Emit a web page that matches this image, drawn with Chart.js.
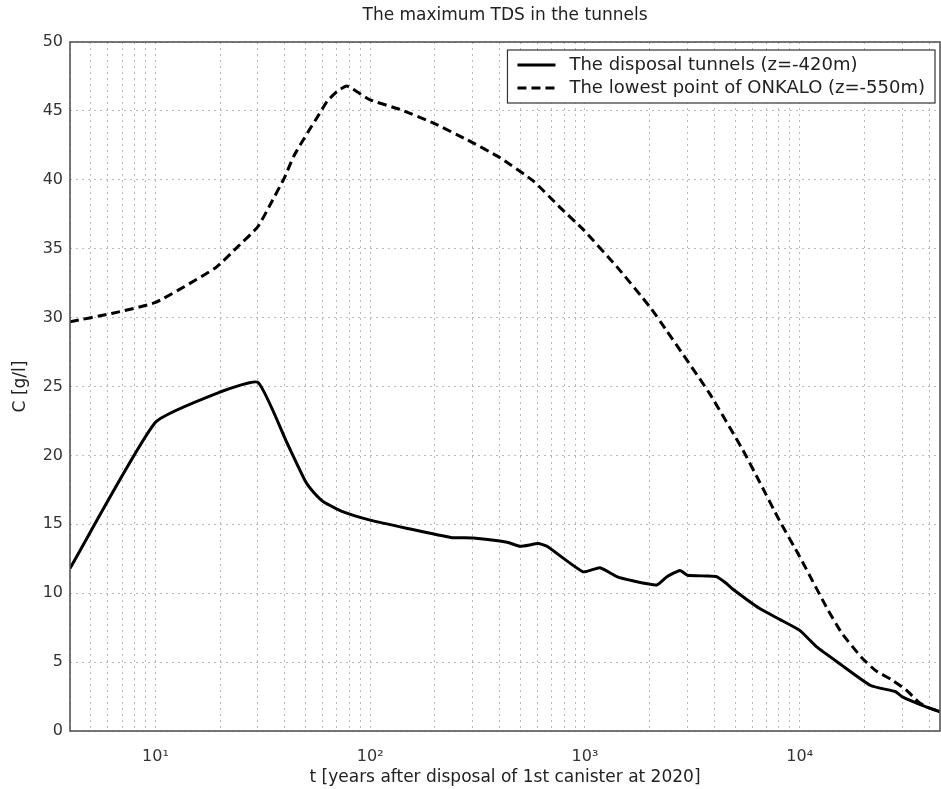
<!DOCTYPE html>
<html>
<head>
<meta charset="utf-8">
<script src="https://cdn.jsdelivr.net/npm/chart.js@4.4.1/dist/chart.umd.min.js"></script>
<style>
  html, body { margin: 0; padding: 0; background: #fff; }
  #wrap { width: 941px; height: 789px; }
</style>
</head>
<body>
<div id="wrap"><canvas id="tdsChart" width="941" height="789"></canvas></div>
<script>
// values (t in years, C in g/l)
const tunnelT = [4, 10, 20, 30, 41, 50, 55, 61, 75, 100, 149, 237, 302, 434, 499, 605, 666, 980, 1175, 1408, 1670, 2160, 2410, 2770, 3000, 3680, 4100, 4560, 4870, 6480, 8070, 10000, 12000, 15300, 21400, 28000, 29900, 38800, 45000];
const tunnelC = [11.8, 22.4, 24.6, 25.3, 20.9, 18.1, 17.25, 16.6, 15.9, 15.3, 14.7, 14.05, 14.0, 13.7, 13.4, 13.6, 13.4, 11.55, 11.85, 11.2, 10.9, 10.6, 11.2, 11.65, 11.3, 11.25, 11.2, 10.7, 10.3, 8.9, 8.1, 7.3, 6.1, 4.9, 3.3, 2.85, 2.5, 1.75, 1.4];

const onkaloT = [4, 6.25, 10, 19, 24, 30, 34.5, 40, 44, 51, 57, 63, 70, 78, 100, 138, 198, 283, 403, 576, 765, 980, 1406, 2000, 2390, 3800, 5430, 6490, 8030, 10000, 13300, 15700, 19500, 22500, 26900, 31200, 35800, 39000, 45000];
const onkaloC = [29.7, 30.3, 31.1, 33.6, 35.1, 36.6, 38.3, 40.2, 41.7, 43.4, 44.6, 45.7, 46.4, 46.8, 45.8, 45.1, 44.1, 42.9, 41.6, 39.9, 38.0, 36.4, 33.7, 30.8, 29.1, 24.5, 20.4, 18.1, 15.3, 12.65, 9.0, 7.1, 5.3, 4.4, 3.7, 3.0, 2.1, 1.75, 1.4];

const seriesNames = ['The disposal tunnels (z=-420m)', 'The lowest point of ONKALO (z=-550m)'];
const decadeLabels = { 10: '10\u00B9', 100: '10\u00B2', 1000: '10\u00B3', 10000: '10\u2074' };
const yTicksStep = 5;
const xMin = 4, xMax = 45000;

// minor + major log grid positions
const xTicks = [];
for (let e = 0; e <= 4; e++) {
    for (let s = 1; s <= 9; s++) {
        const v = s * Math.pow(10, e);
        if (v >= xMin && v <= xMax) xTicks.push(v);
    }
}

const FONT = '"DejaVu Sans", "Liberation Sans", Arial, sans-serif';

const framePlugin = {
    id: 'frame',
    afterDraw(chart) {
        const { ctx, chartArea: a } = chart;
        ctx.save();
        // box round the plot
        ctx.strokeStyle = '#555';
        ctx.lineWidth = 1.6;
        ctx.strokeRect(a.left, a.top, a.right - a.left, a.bottom - a.top);

        // title, centred over the plot
        ctx.fillStyle = '#222';
        ctx.font = '17px ' + FONT;
        ctx.textAlign = 'center';
        ctx.textBaseline = 'middle';
        ctx.fillText('The maximum TDS in the tunnels', (a.left + a.right) / 2, 16);

        // legend box top right
        ctx.font = '18px ' + FONT;
        const textW = Math.max(...seriesNames.map(n => ctx.measureText(n).width));
        const boxW = textW + 72, boxH = 53;
        const bx = a.right - 5 - boxW, by = a.top + 8;
        ctx.fillStyle = '#fff';
        ctx.fillRect(bx, by, boxW, boxH);
        ctx.strokeStyle = '#333';
        ctx.lineWidth = 1.2;
        ctx.strokeRect(bx, by, boxW, boxH);
        chart.data.datasets.forEach((ds, i) => {
            const y = by + 15 + i * 23;
            ctx.strokeStyle = '#000';
            ctx.lineWidth = 3;
            ctx.setLineDash(ds.borderDash || []);
            ctx.beginPath();
            ctx.moveTo(bx + 10, y);
            ctx.lineTo(bx + 48, y);
            ctx.stroke();
            ctx.setLineDash([]);
            ctx.fillStyle = '#222';
            ctx.textAlign = 'left';
            ctx.textBaseline = 'middle';
            ctx.fillText(ds.label, bx + 62, y);
        });
        ctx.restore();
    }
};

const ctx = document.getElementById('tdsChart').getContext('2d');
const tdsChart = new Chart(ctx, {
    type: 'line',
    data: {
        datasets: [{
            label: seriesNames[0],
            data: tunnelT.map((t, i) => ({ x: t, y: tunnelC[i] })),
            borderColor: '#000',
            borderWidth: 3,
            pointRadius: 0,
            tension: 0.15,
            fill: false
        }, {
            label: seriesNames[1],
            data: onkaloT.map((t, i) => ({ x: t, y: onkaloC[i] })),
            borderColor: '#000',
            borderWidth: 3,
            borderDash: [9, 5],
            pointRadius: 0,
            tension: 0.15,
            fill: false
        }]
    },
    options: {
        responsive: false,
        animation: false,
        layout: { autoPadding: false, padding: { top: 42, right: 1, left: 0, bottom: 0 } },
        plugins: {
            legend: { display: false },
            title: { display: false },
            tooltip: { enabled: false }
        },
        scales: {
            x: {
                type: 'logarithmic',
                min: xMin,
                max: xMax,
                afterBuildTicks: axis => { axis.ticks = xTicks.map(v => ({ value: v })); },
                afterFit: axis => {
                    axis.height = 58;
                    axis.paddingLeft = 0;
                    axis.paddingRight = 0;
                },
                ticks: {
                    autoSkip: false,
                    maxRotation: 0,
                    padding: 16,
                    color: '#333',
                    font: { family: FONT, size: 16 },
                    callback: v => decadeLabels[v] || ''
                },
                grid: { color: 'rgba(0,0,0,0.27)', lineWidth: 1, drawTicks: false },
                border: { display: false, dash: [2, 4] },
                title: {
                    display: true,
                    text: 't [years after disposal of 1st canister at 2020]',
                    color: '#222',
                    font: { family: FONT, size: 17 },
                    padding: { top: 0, bottom: 1 }
                }
            },
            y: {
                min: 0,
                max: 50,
                afterFit: axis => { axis.width = 70; },
                ticks: {
                    stepSize: yTicksStep,
                    padding: 7,
                    color: '#333',
                    font: { family: FONT, size: 16 }
                },
                grid: { color: 'rgba(0,0,0,0.27)', lineWidth: 1, drawTicks: false },
                border: { display: false, dash: [2, 4] },
                title: {
                    display: true,
                    text: 'C [g/l]',
                    color: '#222',
                    font: { family: FONT, size: 17 },
                    padding: { top: 10, bottom: 0 }
                }
            }
        }
    },
    plugins: [framePlugin]
});
</script>
</body>
</html>
